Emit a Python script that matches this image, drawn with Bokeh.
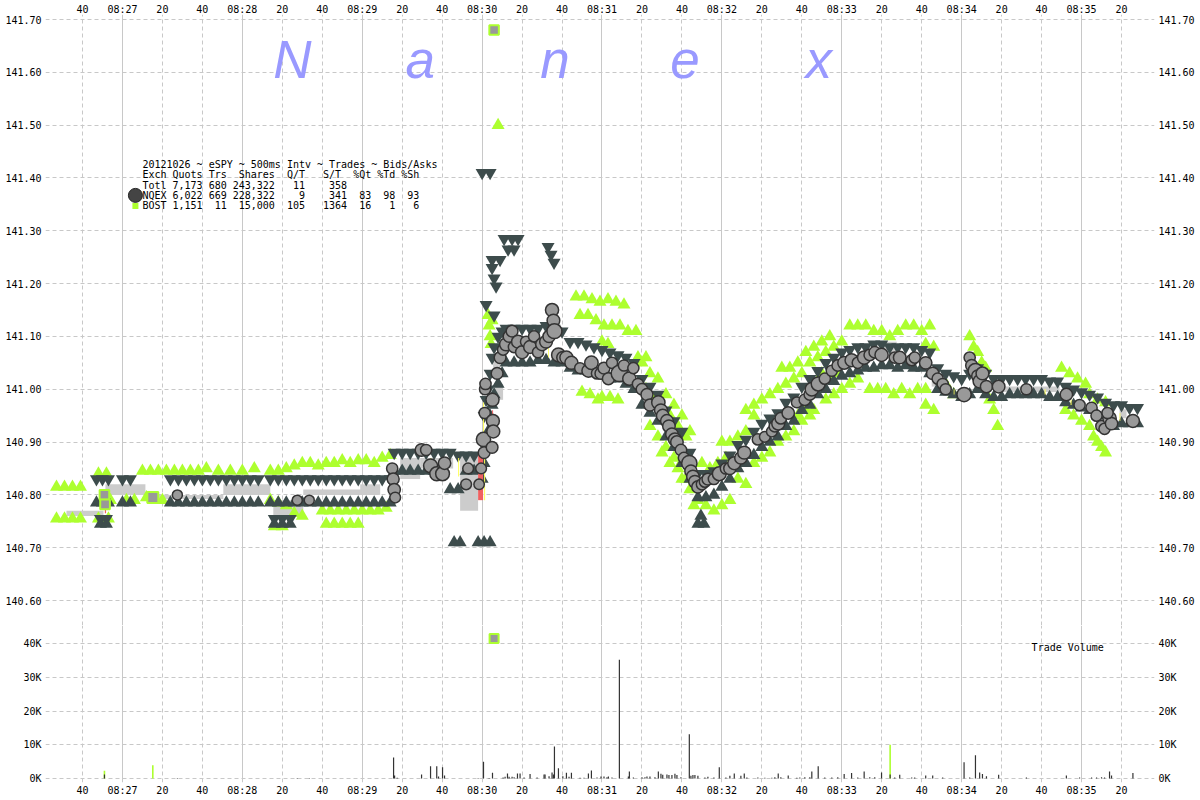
import math
from bokeh.plotting import figure
from bokeh.models import Range1d, LinearAxis, FixedTicker, Grid, Label, NumeralTickFormatter
from bokeh.layouts import column
from bokeh.embed import file_html
from bokeh.resources import INLINE

# ---------------- data (time = seconds after 08:26:00) ----------------
time_ticks = [40, 60, 80, 100, 120, 140, 160, 180, 200, 220, 240, 260, 280, 300,
              320, 340, 360, 380, 400, 420, 440, 460, 480, 500, 520, 540, 560]
time_labels = ["40", "08:27", "20", "40", "08:28", "20", "40", "08:29", "20", "40",
               "08:30", "20", "40", "08:31", "20", "40", "08:32", "20", "40", "08:33",
               "20", "40", "08:34", "20", "40", "08:35", "20"]
minute_ticks = [60, 120, 180, 240, 300, 360, 420, 480, 540]
price_ticks = [140.6, 140.7, 140.8, 140.9, 141.0, 141.1, 141.2, 141.3, 141.4, 141.5, 141.6, 141.7]
vol_ticks = [0, 10000, 20000, 30000, 40000]
vol_labels = ["0K", "10K", "20K", "30K", "40K"]

legend_lines = [
    "20121026 ~ eSPY ~ 500ms Intv ~ Trades ~ Bids/Asks",
    "Exch Quots Trs  Shares  Q/T   S/T  %Qt %Td %Sh",
    "Totl 7,173 680 243,322   11    358",
    "NQEX 6,022 669 228,322    9    341  83  98  93",
    "BOST 1,151  11  15,000  105   1364  16   1   6",
]

# NQEX quotes: (time, bid, ask)
nqex_quotes = [
    (47, 140.785, 140.83), (50, 140.785, 140.83), (53, 140.785, 140.83),
    (60, 140.785, 140.83), (64, 140.785, 140.83),
    (84, 140.785, 140.83), (88, 140.785, 140.83), (92, 140.785, 140.83), (96, 140.785, 140.83),
    (100, 140.785, 140.83), (104, 140.785, 140.83), (108, 140.785, 140.83), (112, 140.785, 140.83),
    (116, 140.785, 140.83), (120, 140.785, 140.83), (124, 140.785, 140.83), (128, 140.785, 140.83),
    (134, 140.785, 140.83), (138, 140.785, 140.83), (142, 140.785, 140.83), (146, 140.785, 140.83),
    (150, 140.785, 140.83), (154, 140.785, 140.83), (158, 140.785, 140.83), (162, 140.785, 140.83),
    (166, 140.785, 140.83), (170, 140.785, 140.83), (174, 140.785, 140.83), (178, 140.785, 140.83),
    (182, 140.785, 140.83), (186, 140.785, 140.83), (190, 140.785, 140.83), (194, 140.785, 140.83),
    (196, 140.845, 140.88), (200, 140.845, 140.88), (204, 140.845, 140.88), (208, 140.845, 140.88),
    (212, 140.845, 140.88), (216, 140.845, 140.88), (220, 140.845, 140.88), (224, 140.81, 140.88),
    (228, 140.81, 140.875), (232, 140.845, 140.875), (236, 140.845, 140.875),
    (240, 140.83, 140.90), (241, 140.86, 140.95), (242, 140.89, 140.98), (243, 140.92, 141.00),
    (244, 140.95, 141.03), (245, 140.97, 141.06), (246, 140.99, 141.08), (248, 141.01, 141.10),
    (250, 141.03, 141.11),
    (252, 141.05, 141.115), (256, 141.05, 141.115), (260, 141.05, 141.115), (264, 141.05, 141.115),
    (268, 141.055, 141.115), (272, 141.055, 141.12), (276, 141.05, 141.115), (280, 141.05, 141.11),
    (284, 141.04, 141.09), (288, 141.035, 141.09), (292, 141.035, 141.085), (296, 141.03, 141.08),
    (300, 141.03, 141.075),
    (304, 141.02, 141.07), (308, 141.02, 141.065), (312, 141.01, 141.06), (316, 141.00, 141.05),
    (320, 140.97, 141.02), (324, 140.955, 141.005), (328, 140.94, 140.99), (332, 140.91, 140.96),
    (336, 140.89, 140.94), (340, 140.86, 140.92), (344, 140.83, 140.88), (348, 140.795, 140.84),
    (352, 140.795, 140.84), (356, 140.80, 140.845), (360, 140.815, 140.86), (364, 140.83, 140.875),
    (368, 140.85, 140.895), (372, 140.86, 140.905), (376, 140.875, 140.92), (380, 140.89, 140.935),
    (384, 140.90, 140.945), (388, 140.91, 140.955), (392, 140.93, 140.975), (396, 140.94, 140.985),
    (400, 140.96, 141.005), (404, 140.97, 141.02), (408, 140.99, 141.035), (412, 141.00, 141.05),
    (416, 141.015, 141.06), (420, 141.025, 141.07), (424, 141.03, 141.075), (428, 141.035, 141.08),
    (432, 141.04, 141.08), (436, 141.04, 141.085), (440, 141.045, 141.085), (444, 141.045, 141.08),
    (448, 141.04, 141.08), (452, 141.045, 141.08), (456, 141.04, 141.08), (460, 141.04, 141.075),
    (464, 141.03, 141.07), (468, 141.00, 141.04), (472, 140.995, 141.03), (476, 140.99, 141.025),
    (480, 140.985, 141.02), (484, 140.99, 141.03), (488, 141.00, 141.04), (492, 140.99, 141.03),
    (496, 140.985, 141.02), (500, 140.985, 141.02), (504, 140.99, 141.02), (508, 140.99, 141.02),
    (512, 140.99, 141.02), (516, 140.99, 141.02), (520, 140.99, 141.02), (524, 140.985, 141.015),
    (528, 140.985, 141.015), (532, 140.975, 141.005), (536, 140.97, 141.00), (540, 140.965, 140.995),
    (544, 140.96, 140.99), (548, 140.95, 140.985), (552, 140.935, 140.975), (556, 140.93, 140.97),
    (560, 140.935, 140.97), (564, 140.935, 140.965), (568, 140.935, 140.965),
]
# isolated NQEX asks / bids: (time, price)
nqex_extra_asks = [
    (49, 140.755), (52, 140.755), (136, 140.755), (140, 140.755), (144, 140.755),
    (240, 141.41), (244, 141.41), (242, 141.16), (246, 141.14), (245, 141.23), (246, 141.21),
    (247, 141.195), (251, 141.285), (255, 141.285), (258, 141.285), (253, 141.265), (256, 141.265),
    (245, 141.245), (249, 141.245), (273, 141.27), (274.5, 141.255), (276, 141.24),
]
nqex_extra_bids = [
    (49, 140.745), (52, 140.745), (136, 140.745), (140, 140.745), (144, 140.745),
    (226, 140.71), (229, 140.71), (238, 140.71), (241, 140.71), (244, 140.71),
    (348, 140.745), (351, 140.745), (349.5, 140.76),
]
# BOST quotes (time, price)
bost_quotes = [
    (27, 140.815), (31, 140.815), (35, 140.815), (39, 140.815),
    (27, 140.755), (31, 140.755), (35, 140.755), (39, 140.755),
    (48, 140.84), (52, 140.84), (50, 140.79), (54, 140.79), (48, 140.755), (53, 140.755),
    (62, 140.79), (66, 140.79),
    (70, 140.845), (74, 140.845), (78, 140.845), (82, 140.845), (86, 140.845), (90, 140.845),
    (94, 140.845), (98, 140.845), (72, 140.795), (76, 140.79), (80, 140.79),
    (102, 140.85), (108, 140.845), (114, 140.845), (120, 140.845), (126, 140.85),
    (134, 140.845), (138, 140.845), (142, 140.85), (146, 140.855), (150, 140.86), (154, 140.86),
    (158, 140.855), (162, 140.86), (166, 140.86), (170, 140.865), (174, 140.86), (178, 140.865),
    (182, 140.865), (186, 140.86), (190, 140.87),
    (134, 140.79), (138, 140.785), (142, 140.78), (146, 140.765), (150, 140.76), (136, 140.74), (140, 140.74),
    (160, 140.77), (164, 140.77), (168, 140.77), (172, 140.77), (176, 140.77), (180, 140.77),
    (184, 140.77), (188, 140.77), (192, 140.775),
    (162, 140.745), (166, 140.745), (170, 140.745), (174, 140.745), (178, 140.745), (194, 140.875),
    (243, 141.14), (243.5, 141.12), (244, 141.10), (244.5, 141.085), (245, 141.13), (248, 141.50),
    (287, 141.175), (291, 141.175), (295, 141.17), (299, 141.165), (303, 141.17), (307, 141.165), (311, 141.16),
    (289, 141.14), (293, 141.14), (297, 141.13), (301, 141.12), (305, 141.12), (309, 141.12),
    (313, 141.11), (317, 141.11), (290, 140.995), (294, 140.99), (298, 140.98),
    (300, 141.09), (303, 141.085), (300, 140.985), (304, 140.985), (308, 140.98),
    (318, 141.06), (322, 141.06), (318, 141.01), (322, 141.00), (326, 140.98), (330, 140.96),
    (334, 140.95), (338, 140.93), (342, 140.91), (330, 140.88), (334, 140.86), (338, 140.85),
    (340, 140.83), (344, 140.81), (348, 140.79), (352, 140.78), (356, 140.77),
    (350, 140.86), (354, 140.85), (358, 140.86), (362, 140.87), (360, 140.78), (364, 140.79),
    (360, 140.90), (364, 140.90), (368, 140.91), (372, 140.92), (368, 140.83), (372, 140.82),
    (372, 140.96), (376, 140.97), (380, 140.98), (384, 140.99), (380, 140.87), (384, 140.88),
    (390, 141.04), (394, 141.04), (398, 141.05), (402, 141.07), (406, 141.08), (410, 141.09), (414, 141.10),
    (398, 140.95), (402, 140.96), (406, 140.96), (410, 141.03), (414, 141.02), (418, 141.03),
    (424, 141.12), (428, 141.12), (432, 141.12), (436, 141.11),
    (434, 141.00), (438, 141.00), (442, 141.00), (446, 140.99), (450, 141.00), (454, 140.99),
    (456, 141.12), (460, 141.11), (464, 141.12), (462, 141.085), (466, 141.08), (462, 140.97), (466, 140.96),
    (472, 141.01), (476, 140.99),
    (484, 141.10), (486, 141.08), (488, 141.07), (490, 141.05), (492, 141.04),
    (494, 140.98), (496, 140.96), (498, 140.93),
    (530, 141.04), (534, 141.03), (538, 141.02), (542, 141.01),
    (532, 140.96), (536, 140.95), (540, 140.94), (544, 140.93),
    (546, 140.91), (548, 140.90), (550, 140.89), (552, 140.88),
    (544, 140.99), (548, 140.98), (552, 140.975),
    (320, 141.05), (324, 141.03), (328, 141.02), (332, 140.99), (336, 140.97), (340, 140.95), (344, 140.92),
    (324, 140.93), (328, 140.91), (332, 140.89), (336, 140.87), (342, 140.83), (346, 140.78),
    (376, 140.95), (388, 141.00), (392, 141.01), (396, 141.02), (400, 141.03), (404, 141.05),
    (408, 141.06), (412, 141.07), (416, 141.08), (420, 141.09),
    (376, 140.86), (388, 140.90), (392, 140.91), (396, 140.92), (400, 140.94), (404, 140.95),
    (412, 140.98), (416, 140.99), (420, 141.00), (424, 141.01), (428, 141.02),
    (440, 141.11), (444, 141.10), (448, 141.11), (452, 141.12), (458, 141.00), (462, 141.00),
]
# spread fills (t0, t1, low, high)
spread_bands = [
    (32, 50.5, 140.76, 140.77), (51.5, 71.5, 140.80, 140.82), (78, 110.5, 140.792, 140.80),
    (110.5, 134, 140.80, 140.82), (135.5, 145, 140.76, 140.79), (145, 150.5, 140.76, 140.785),
    (150.5, 188, 140.80, 140.81), (179, 189, 140.80, 140.82), (199, 209, 140.83, 140.87),
    (209, 225.5, 140.85, 140.87), (229, 238, 140.77, 140.88), (245.5, 249, 141.03, 141.055),
    (246.5, 250.5, 140.98, 141.01), (397.5, 400.5, 140.955, 140.968), (440.5, 447.5, 141.06, 141.09),
    (465, 468, 141.005, 141.015), (500.5, 529, 140.995, 141.005), (559, 562.5, 140.945, 140.962),
]
crossed_red = [
    (51.2, 51.8, 140.765, 140.79), (238, 240.5, 140.79, 140.875),
    (245, 245.5, 140.94, 140.96), (258, 258.4, 141.075, 141.10),
]
locked_yellow = [
    (214, 214.5, 140.85, 140.87), (228, 228.5, 140.835, 140.87), (241, 241.5, 140.79, 140.87),
    (240.5, 241, 140.915, 140.975), (256, 256.5, 141.09, 141.10), (273, 273.4, 141.06, 141.08),
    (476, 476.4, 140.99, 141.0), (521.5, 522, 140.99, 141.0), (534.5, 535, 140.97, 140.98),
    (544, 544.4, 140.965, 140.975), (559, 559.4, 140.94, 140.955),
]
# NQEX trades (time, price, shares)
nqex_trades = [
    (87.5, 140.80, 100), (147.5, 140.79, 100), (153.5, 140.79, 100),
    (195.0, 140.85, 300), (195.5, 140.83, 600), (196.0, 140.81, 900), (196.5, 140.795, 200),
    (209.7, 140.885, 1200), (212.0, 140.885, 300), (214.2, 140.855, 3600), (217.3, 140.84, 3600),
    (220.2, 140.84, 3300), (221.2, 140.86, 900), (233.0, 140.85, 200), (232.0, 140.82, 200),
    (238.5, 140.82, 150), (239.5, 140.85, 200), (240.7, 140.905, 5000), (241.0, 140.88, 500),
    (241.3, 140.955, 300), (241.5, 141.00, 300), (241.7, 141.01, 300), (245.0, 140.89, 500),
    (245.2, 140.98, 1700), (245.4, 140.94, 1500), (245.6, 140.92, 1500), (247.5, 141.03, 500),
    (249.0, 141.06, 500), (250.5, 141.075, 300), (252.0, 141.085, 1500), (253.5, 141.10, 500),
    (255.0, 141.11, 500), (256.0, 141.08, 400), (258.0, 141.09, 1500), (260.0, 141.07, 1500),
    (262.0, 141.09, 300), (264.0, 141.08, 1300), (266.0, 141.10, 300), (268.0, 141.07, 300),
    (270.0, 141.085, 1200), (272.0, 141.09, 1200), (273.5, 141.10, 700), (275.0, 141.15, 1800),
    (275.7, 141.13, 1200), (276.2, 141.11, 9500), (278.2, 141.065, 3000), (280.4, 141.06, 700),
    (282.2, 141.06, 1700), (284.7, 141.05, 1700), (289.0, 141.04, 200), (293.2, 141.035, 1500),
    (294.7, 141.05, 2400), (297.5, 141.03, 300), (299.5, 141.03, 600),
    (301.0, 141.04, 600), (303.2, 141.02, 600), (305.0, 141.05, 300), (308.7, 141.03, 35200),
    (311.0, 141.045, 300), (313.7, 141.02, 2100), (315.7, 141.04, 300), (318.0, 141.01, 300),
    (320.0, 141.00, 400), (322.5, 140.99, 600), (324.0, 140.97, 600), (328.2, 140.975, 2100),
    (329.5, 140.96, 1400), (330.4, 140.95, 1100), (332.5, 140.94, 1200), (333.5, 140.93, 1000),
    (335.0, 140.915, 1000), (336.5, 140.905, 1400), (337.5, 140.90, 1000), (339.5, 140.885, 400),
    (341.0, 140.87, 300), (343.7, 140.86, 13100), (344.5, 140.845, 800), (345.5, 140.835, 1000),
    (346.5, 140.825, 1000), (348.0, 140.815, 800), (350.0, 140.82, 300), (351.5, 140.825, 300),
    (353.0, 140.83, 500), (356.0, 140.83, 300), (358.7, 140.84, 3300), (362.0, 140.85, 300),
    (364.0, 140.85, 800), (366.2, 140.86, 1500), (369.5, 140.87, 800), (371.2, 140.88, 1500),
    (378.0, 140.905, 300), (381.5, 140.91, 200), (385.0, 140.92, 200), (386.5, 140.93, 400),
    (388.2, 140.935, 1500), (389.5, 140.945, 400), (393.2, 140.955, 900), (397.5, 140.975, 200),
    (401.5, 140.98, 400), (404.0, 140.99, 400), (405.0, 141.00, 2100), (408.2, 141.01, 3600),
    (411.5, 141.02, 300), (415.0, 141.035, 300), (418.0, 141.045, 400), (421.2, 141.05, 1300),
    (424.9, 141.055, 1600), (428.0, 141.05, 300), (431.2, 141.06, 2100), (434.0, 141.065, 400),
    (436.5, 141.07, 400), (439.9, 141.065, 1800), (446.5, 141.06, 300), (449.0, 141.06, 1100),
    (455.0, 141.055, 300), (456.5, 141.06, 300), (462.0, 141.05, 900), (465.5, 141.03, 900),
    (468.0, 141.02, 300), (470.5, 141.01, 300), (472.0, 141.00, 300), (481.2, 140.99, 4800),
    (484.0, 141.06, 300), (485.0, 141.045, 600), (486.9, 141.035, 6900), (488.0, 141.025, 600),
    (489.0, 141.015, 1800), (490.4, 141.03, 1300), (492.4, 141.005, 700), (498.5, 141.005, 1100),
    (512.4, 141.00, 300), (532.4, 140.99, 900), (539.0, 140.97, 300), (545.0, 140.965, 300),
    (547.5, 140.95, 300), (550.0, 140.93, 400), (551.5, 140.925, 300), (554.0, 140.945, 2100),
    (555.0, 140.935, 900), (553.0, 140.955, 300), (565.7, 140.94, 1600),
]
bost_trades = [(51, 140.80, 1100), (51.3, 140.782, 1200), (75.2, 140.795, 3900), (246, 141.68, 1000)]
bost_offscale = [(246, 41500)]
# volume bars (time, shares)
nqex_volume = [
    (51, 1200), (87.5, 150), (147.5, 150), (153.5, 150), (195.7, 6200), (196.2, 900), (197.5, 200),
    (209.7, 1200), (214.2, 3600), (217.3, 3600), (218.2, 600), (220.2, 3300), (221.2, 900),
    (238, 150), (240.7, 5000), (243.5, 150), (245.2, 1700), (250.5, 300), (251.5, 500),
    (252.7, 1500), (253.5, 500), (255, 500), (256, 400), (257.7, 1500), (259, 1500), (261, 300),
    (264, 1300), (267.5, 300), (271, 1200), (271.5, 1200), (273.5, 700), (275, 1800), (275.7, 1200),
    (276.2, 9500), (278.2, 3000), (280.4, 700), (282.2, 1700), (283.5, 500), (284.7, 1700),
    (289, 200), (291, 200), (293.2, 1500), (294.7, 2400), (297.5, 300), (299.5, 600), (301, 600),
    (302.5, 400), (303.2, 600), (305, 300), (308.7, 35200), (313.2, 600), (313.7, 2100),
    (315.7, 300), (320, 400), (321.5, 400), (322.5, 600), (324, 600), (326.5, 400), (328.2, 2100),
    (329.5, 1400), (330.4, 1100), (332.5, 1200), (333.5, 1000), (335, 1000), (336.5, 1400),
    (337.5, 1000), (339.5, 400), (343.7, 13100), (344.5, 800), (345.5, 1000), (346.5, 1000),
    (348, 800), (351.5, 300), (353, 500), (356, 300), (358.7, 3300), (362, 300), (364, 800),
    (366.2, 1500), (369.5, 800), (371.2, 1500), (372.5, 300), (378, 300), (381.5, 200), (385, 200),
    (386.5, 400), (388.2, 1500), (389.5, 400), (393.2, 900), (397.5, 200), (399, 300),
    (401.5, 400), (404, 400), (405, 2100), (408.2, 3600), (411.5, 300), (415, 300), (418, 400),
    (421.2, 1300), (424.9, 1600), (428, 300), (431.2, 2100), (434, 400), (436.5, 400),
    (439.9, 1800), (444.2, 1200), (446.5, 300), (449, 1100), (455, 300), (456.5, 300), (462, 900),
    (465.5, 900), (470.5, 300), (481.2, 4800), (484, 300), (486.9, 6900), (489, 1800),
    (490.4, 1300), (492.4, 700), (498.5, 1100), (512.4, 300), (532.4, 900), (539, 300), (545, 300),
    (547.5, 300), (550, 400), (551.5, 300), (554, 2100), (555, 900), (565.7, 1600),
]
bost_volume = [(51, 2300), (75.2, 3900), (444.2, 10000)]

# ---------------- styling ----------------
MONO = "DejaVu Sans Mono"
GRID = "#c8c8c8"
DARK = "#3d4c4c"
GREEN = "#adff2f"
W = 1198
x_range = Range1d(21.5, 576.5)


def style_axis(ax, standoff=4):
    ax.axis_line_color = None
    ax.major_tick_line_color = None
    ax.minor_tick_line_color = None
    ax.major_tick_in = 0
    ax.major_tick_out = 0
    ax.minor_tick_in = 0
    ax.minor_tick_out = 0
    ax.major_label_text_font = MONO
    ax.major_label_text_font_size = "10px"
    ax.major_label_text_color = "#000000"
    ax.major_label_standoff = standoff


def time_grids(p):
    p.xgrid.visible = False
    p.add_layout(Grid(dimension=0, ticker=FixedTicker(ticks=minute_ticks),
                      grid_line_color=GRID, grid_line_width=1))
    p.add_layout(Grid(dimension=0, ticker=FixedTicker(ticks=[t for t in time_ticks if t not in minute_ticks]),
                      grid_line_color=GRID, grid_line_width=1, grid_line_dash="4 3"))


def base_fig(height, y_range, x_loc, top):
    p = figure(width=W, height=height, x_range=x_range, y_range=y_range,
               x_axis_location=x_loc, output_backend="svg", toolbar_location=None,
               min_border_left=45, min_border_right=W - 1154, min_border_top=top, min_border_bottom=0)
    p.outline_line_color = None
    p.background_fill_color = "white"
    p.border_fill_color = "white"
    return p


# ---------------- price panel ----------------
p1 = base_fig(625, Range1d(140.5527, 141.7095), "above", 13)
p1.xaxis.ticker = FixedTicker(ticks=time_ticks)
p1.xaxis.major_label_overrides = dict(zip(time_ticks, time_labels))
style_axis(p1.xaxis[0], standoff=0)
p1.yaxis.ticker = FixedTicker(ticks=price_ticks)
p1.yaxis.formatter = NumeralTickFormatter(format="0.00")
style_axis(p1.yaxis[0])
ry = LinearAxis(ticker=FixedTicker(ticks=price_ticks), formatter=NumeralTickFormatter(format="0.00"))
style_axis(ry)
p1.add_layout(ry, "right")
p1.ygrid.ticker = FixedTicker(ticks=price_ticks)
p1.ygrid.grid_line_color = GRID
p1.ygrid.grid_line_dash = "4 3"
time_grids(p1)

# watermark
for letter, tx in zip("Nanex", [145, 209, 276.5, 341.5, 408.5]):
    p1.add_layout(Label(x=tx, y=141.624, text=letter, text_font="Liberation Sans",
                        text_font_style="italic", text_font_size="53px", text_color="#9999ff",
                        text_align="center", text_baseline="alphabetic"))

# spread fills
p1.quad(left=[b[0] for b in spread_bands], right=[b[1] for b in spread_bands],
        bottom=[b[2] for b in spread_bands], top=[b[3] for b in spread_bands],
        fill_color="#cccccc", line_color=None)
# BOST quotes
p1.scatter([q[0] for q in bost_quotes], [q[1] for q in bost_quotes], marker="triangle",
           size=13, fill_color=GREEN, line_color=None)
# NQEX quotes
ask_t = [q[0] for q in nqex_quotes] + [q[0] for q in nqex_extra_asks]
ask_p = [q[2] for q in nqex_quotes] + [q[1] for q in nqex_extra_asks]
bid_t = [q[0] for q in nqex_quotes] + [q[0] for q in nqex_extra_bids]
bid_p = [q[1] for q in nqex_quotes] + [q[1] for q in nqex_extra_bids]
p1.scatter(ask_t, ask_p, marker="inverted_triangle", size=13, fill_color=DARK, line_color=None)
p1.scatter(bid_t, bid_p, marker="triangle", size=13, fill_color=DARK, line_color=None)
# crossed / locked markers
p1.quad(left=[b[0] for b in crossed_red], right=[b[1] for b in crossed_red],
        bottom=[b[2] for b in crossed_red], top=[b[3] for b in crossed_red],
        fill_color="#f06060", line_color=None)
p1.quad(left=[b[0] for b in locked_yellow], right=[b[1] for b in locked_yellow],
        bottom=[b[2] for b in locked_yellow], top=[b[3] for b in locked_yellow],
        fill_color="#ffff55", line_color=None)
# trades
p1.scatter([t[0] for t in nqex_trades], [t[1] for t in nqex_trades],
           size=[10 + 2.5 * math.log10(t[2] / 100) for t in nqex_trades],
           marker="circle", fill_color="#999999", line_color="#333333", line_width=1.5)
p1.scatter([t[0] for t in bost_trades], [t[1] for t in bost_trades],
           size=[7 + 2.5 * math.log10(t[2] / 100) for t in bost_trades],
           marker="square", fill_color="#999999", line_color=GREEN, line_width=2)

# stats block
line_y = [141.426, 141.406, 141.386, 141.367, 141.347]
for txt, ly in zip(legend_lines, line_y):
    p1.add_layout(Label(x=70, y=ly, text=txt.replace(" ", "\u00a0"), text_font=MONO,
                        text_font_size="10px", text_color="#000000",
                        text_align="left", text_baseline="middle"))
p1.scatter([66.5], [141.367], marker="circle", size=14, fill_color="#444444", line_color="#222222")
p1.scatter([66.5], [141.347], marker="square", size=6, fill_color=GREEN, line_color=None)

# ---------------- volume panel ----------------
p2 = base_fig(173, Range1d(-1190, 45370), "below", 0)
p2.xaxis.ticker = FixedTicker(ticks=time_ticks)
p2.xaxis.major_label_overrides = dict(zip(time_ticks, time_labels))
style_axis(p2.xaxis[0], standoff=2)
p2.yaxis.ticker = FixedTicker(ticks=vol_ticks)
p2.yaxis.major_label_overrides = dict(zip(vol_ticks, vol_labels))
style_axis(p2.yaxis[0])
ry2 = LinearAxis(ticker=FixedTicker(ticks=vol_ticks))
ry2.major_label_overrides = dict(zip(vol_ticks, vol_labels))
style_axis(ry2)
p2.add_layout(ry2, "right")
p2.ygrid.ticker = FixedTicker(ticks=vol_ticks)
p2.ygrid.grid_line_color = GRID
p2.ygrid.grid_line_dash = "4 3"
time_grids(p2)

p2.vbar(x=[v[0] for v in bost_volume], top=[v[1] for v in bost_volume], bottom=0,
        width=0.8, fill_color=GREEN, line_color=None)
p2.vbar(x=[v[0] for v in nqex_volume], top=[v[1] for v in nqex_volume], bottom=0,
        width=0.6, fill_color="#333333", line_color=None)
p2.scatter([v[0] for v in bost_offscale], [v[1] for v in bost_offscale], marker="square",
           size=9, fill_color="#999999", line_color=GREEN, line_width=2)
p2.add_layout(Label(x=515, y=38800, text="Trade\u00a0Volume", text_font=MONO, text_font_size="10px",
                    text_color="#000000", text_align="left", text_baseline="middle"))

layout = column(p1, p2)
open("out.html", "w").write(file_html(layout, INLINE))
